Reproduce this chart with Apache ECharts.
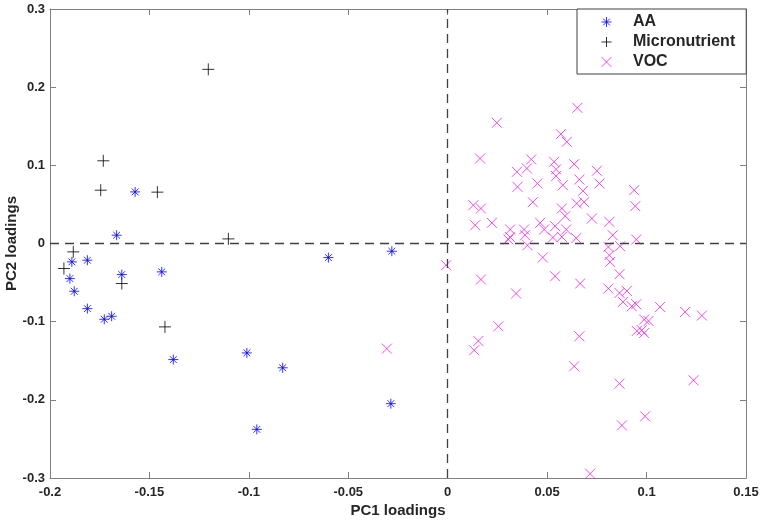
<!DOCTYPE html>
<html>
<head>
<meta charset="utf-8">
<script src="https://cdn.jsdelivr.net/npm/echarts@6/dist/echarts.min.js"></script>
<style>
html,body{margin:0;padding:0;background:#fff;}
#chart{width:761px;height:521px;}
</style>
</head>
<body>
<div id="chart"></div>
<script>
// ---- data ----
var seriesNames = ['AA', 'Micronutrient', 'VOC'];

var aaPoints = [
  [-0.1665, 0.0106], [-0.1890, -0.0235], [-0.1812, -0.0214], [-0.1900, -0.0449],
  [-0.1878, -0.0611], [-0.1812, -0.0833], [-0.1727, -0.0969], [-0.1690, -0.0931],
  [-0.1639, -0.0397], [-0.1438, -0.0363], [-0.1380, -0.1485], [-0.1010, -0.1400],
  [-0.0830, -0.1590], [-0.0960, -0.2378], [-0.0600, -0.0180], [-0.0281, -0.0099],
  [-0.0286, -0.2049], [-0.1572, 0.0660]
];

var microPoints = [
  [-0.1204, 0.2228], [-0.1732, 0.1058], [-0.1745, 0.0682], [-0.1460, 0.0657],
  [-0.1103, 0.0059], [-0.1883, -0.0107], [-0.1930, -0.0320], [-0.1639, -0.0512],
  [-0.1422, -0.1067]
];

var vocPoints = [
  [0.0652, 0.1736], [0.0247, 0.1544], [0.0569, 0.1399], [0.0599, 0.1301],
  [0.0163, 0.1088], [0.0420, 0.1076], [0.0535, 0.1045], [0.0636, 0.1015],
  [0.0750, 0.0930], [0.0348, 0.0917], [0.0398, 0.0960], [0.0545, 0.0948],
  [0.0545, 0.0862], [0.0662, 0.0819], [0.0351, 0.0725], [0.0451, 0.0768],
  [0.0579, 0.0746], [0.0763, 0.0768], [0.0680, 0.0673], [0.0938, 0.0682],
  [0.0428, 0.0529], [0.0649, 0.0512], [0.0686, 0.0529], [0.0574, 0.0448],
  [0.0943, 0.0478], [0.0129, 0.0490], [0.0167, 0.0448], [0.0591, 0.0350],
  [0.0725, 0.0320], [0.0138, 0.0234], [0.0222, 0.0264], [0.0813, 0.0277],
  [0.0314, 0.0179], [0.0384, 0.0179], [0.0465, 0.0264], [0.0485, 0.0179],
  [0.0540, 0.0222], [0.0596, 0.0179], [0.0389, 0.0106], [0.0305, 0.0051],
  [0.0314, 0.0081], [0.0529, 0.0077], [0.0574, 0.0085], [0.0646, 0.0068],
  [0.0830, 0.0106], [0.0948, 0.0051], [0.0401, -0.0022], [0.0808, -0.0044],
  [0.0867, -0.0035], [-0.0008, -0.0278], [0.0167, -0.0461], [0.0478, -0.0179],
  [0.0540, -0.0419], [0.0666, -0.0512], [0.0813, -0.0150], [0.0817, -0.0236],
  [0.0864, -0.0393], [0.0344, -0.0640], [0.0808, -0.0576], [0.0864, -0.0633],
  [0.0901, -0.0607], [0.0881, -0.0748], [0.0926, -0.0803], [0.0948, -0.0777],
  [0.1068, -0.0812], [0.1194, -0.0876], [0.1278, -0.0922], [0.0988, -0.0973],
  [0.1010, -0.0991], [0.0951, -0.1119], [0.0976, -0.1110], [0.0988, -0.1145],
  [0.0255, -0.1059], [0.0154, -0.1247], [0.0133, -0.1366], [0.0662, -0.1187],
  [0.0636, -0.1571], [0.0864, -0.1793], [0.1236, -0.1750], [0.0876, -0.2327],
  [0.0993, -0.2211], [0.0716, -0.2945], [-0.0306, -0.1345]
];

var xTicks = [-0.2, -0.15, -0.1, -0.05, 0, 0.05, 0.1, 0.15];
var xTickLabels = ['-0.2', '-0.15', '-0.1', '-0.05', '0', '0.05', '0.1', '0.15'];
var yTicks = [-0.3, -0.2, -0.1, 0, 0.1, 0.2, 0.3];
var yTickLabels = ['-0.3', '-0.2', '-0.1', '0', '0.1', '0.2', '0.3'];
var refLines = [{ xAxis: 0 }, { yAxis: 0 }];

// ---- helpers ----
function labelFor(ticks, labels) {
  return function (v) {
    for (var i = 0; i < ticks.length; i++) {
      if (Math.abs(ticks[i] - v) < 1e-6) return labels[i];
    }
    return '';
  };
}

var starPath = 'path://M5,0L5,10M0,5L10,5M1.6,1.6L8.4,8.4M8.4,1.6L1.6,8.4';
var plusPath = 'path://M5,0L5,10M0,5L10,5';
var crossPath = 'path://M0,0L10,10M10,0L0,10';

var colAA = '#0000ff';
var colMicro = '#000000';
var colVOC = '#f020e0';
var frameColor = '#808080';
var textColor = '#262626';
var fontFam = '"Liberation Sans", Arial, Helvetica, sans-serif';

function axisCommon(extra) {
  var base = {
    type: 'value',
    axisLine: { show: true, onZero: false, lineStyle: { color: frameColor, width: 1 } },
    axisTick: { show: true, inside: true, length: 6, lineStyle: { color: frameColor, width: 1 } },
    splitLine: { show: false },
    axisLabel: { show: false }
  };
  for (var k in extra) base[k] = extra[k];
  return base;
}

var chart = echarts.init(document.getElementById('chart'), null, { renderer: 'canvas' });

var option = {
  animation: false,
  backgroundColor: '#ffffff',
  grid: { left: 50, right: 15, top: 9, bottom: 43, containLabel: false, outerBoundsMode: 'none' },
  xAxis: [
    axisCommon({
      min: -0.2, max: 0.15, interval: 0.05, position: 'bottom',
      name: 'PC1 loadings', nameLocation: 'middle', nameGap: 25, nameMoveOverlap: false,
      nameTextStyle: { color: textColor, fontSize: 15, fontWeight: 'bold', fontFamily: fontFam },
      axisLabel: {
        show: true, margin: 8, color: textColor, fontSize: 13, fontWeight: 'bold', fontFamily: fontFam,
        formatter: labelFor(xTicks, xTickLabels)
      }
    }),
    axisCommon({ min: -0.2, max: 0.15, interval: 0.05, position: 'top' })
  ],
  yAxis: [
    axisCommon({
      min: -0.3, max: 0.3, interval: 0.1, position: 'left',
      name: 'PC2 loadings', nameLocation: 'middle', nameGap: 31, nameRotate: 90, nameMoveOverlap: false,
      nameTextStyle: { color: textColor, fontSize: 15, fontWeight: 'bold', fontFamily: fontFam },
      axisLabel: {
        show: true, margin: 5, color: textColor, fontSize: 13, fontWeight: 'bold', fontFamily: fontFam,
        formatter: labelFor(yTicks, yTickLabels)
      }
    }),
    axisCommon({ min: -0.3, max: 0.3, interval: 0.1, position: 'right' })
  ],
  legend: {
    orient: 'vertical',
    left: 577, top: 9,
    padding: [5, 11, 4, 24],
    itemGap: 4,
    itemWidth: 43,
    itemHeight: 10,
    backgroundColor: '#ffffff',
    borderColor: '#404040',
    borderWidth: 1,
    borderRadius: 0,
    selectedMode: false,
    textStyle: { color: textColor, fontSize: 16, fontWeight: 'bold', fontFamily: fontFam },
    data: [
      { name: seriesNames[0], icon: starPath, itemStyle: { color: 'rgba(0,0,0,0)', borderColor: colAA, borderWidth: 1 } },
      { name: seriesNames[1], icon: plusPath, itemStyle: { color: 'rgba(0,0,0,0)', borderColor: colMicro, borderWidth: 1 } },
      { name: seriesNames[2], icon: crossPath, itemStyle: { color: 'rgba(0,0,0,0)', borderColor: colVOC, borderWidth: 1 } }
    ]
  },
  series: [
    {
      name: 'refLines', type: 'scatter', data: [], silent: true, z: 2,
      markLine: {
        silent: true, symbol: ['none', 'none'], animation: false,
        label: { show: false },
        lineStyle: { type: [9, 6], color: '#404040', width: 1.3 },
        data: refLines
      }
    },
    {
      name: seriesNames[2], type: 'scatter', data: vocPoints,
      symbol: crossPath, symbolSize: 10,
      itemStyle: { color: 'rgba(0,0,0,0)', borderColor: colVOC, borderWidth: 1 },
      emphasis: { disabled: true },
      silent: true, z: 3
    },
    {
      name: seriesNames[0], type: 'scatter', data: aaPoints,
      symbol: starPath, symbolSize: 10,
      itemStyle: { color: 'rgba(0,0,0,0)', borderColor: colAA, borderWidth: 1 },
      emphasis: { disabled: true },
      silent: true, z: 4
    },
    {
      name: seriesNames[1], type: 'scatter', data: microPoints,
      symbol: plusPath, symbolSize: 12,
      itemStyle: { color: 'rgba(0,0,0,0)', borderColor: colMicro, borderWidth: 1 },
      emphasis: { disabled: true },
      silent: true, z: 4
    }
  ]
};

chart.setOption(option);
</script>
</body>
</html>
